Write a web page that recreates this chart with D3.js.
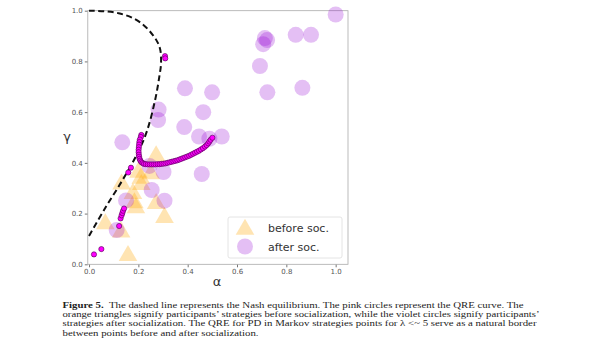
<!DOCTYPE html>
<html>
<head>
<meta charset="utf-8">
<script src="https://cdn.jsdelivr.net/npm/d3@7"></script>
<style>
  body { margin: 0; background: #fff; }
  svg { display: block; }
</style>
</head>
<body>
<svg id="drawing_region"></svg>
<script>
// [alpha, gamma]
const beforeSoc = [
    [0.272,0.433],[0.200,0.368],[0.210,0.345],[0.250,0.362],[0.132,0.322],
    [0.212,0.320],[0.178,0.285],[0.184,0.248],[0.190,0.228],[0.272,0.245],
    [0.306,0.190],[0.066,0.165],[0.130,0.133],[0.158,0.040]
];

const afterSoc = [
    [1.000,0.985],[0.838,0.905],[0.900,0.905],[0.713,0.892],[0.722,0.884],
    [0.706,0.868],[0.693,0.782],[0.723,0.678],[0.865,0.696],[0.389,0.694],
    [0.499,0.678],[0.282,0.610],[0.280,0.569],[0.463,0.600],[0.386,0.541],
    [0.446,0.504],[0.488,0.495],[0.538,0.504],[0.135,0.481],[0.457,0.356],
    [0.245,0.388],[0.302,0.364],[0.254,0.293],[0.306,0.251],[0.150,0.252],
    [0.112,0.135]
];

const qre = [
    [0.020,0.039],[0.050,0.060],[0.122,0.151],[0.128,0.181],[0.132,0.193],
    [0.135,0.202],[0.138,0.211],[0.142,0.220],[0.159,0.362],[0.170,0.381],
    [0.212,0.510],[0.210,0.502],[0.206,0.492],[0.204,0.482],[0.203,0.472],
    [0.202,0.462],[0.201,0.452],[0.201,0.442],[0.202,0.432],[0.203,0.424],
    [0.205,0.416],[0.208,0.409],[0.212,0.403],[0.217,0.399],[0.223,0.396],
    [0.230,0.395],[0.238,0.394],[0.246,0.394],[0.254,0.394],[0.262,0.394],
    [0.270,0.394],[0.278,0.395],[0.286,0.395],[0.294,0.396],[0.302,0.397],
    [0.310,0.398],[0.318,0.400],[0.326,0.402],[0.334,0.404],[0.342,0.406],
    [0.350,0.408],[0.358,0.410],[0.366,0.413],[0.374,0.416],[0.382,0.419],
    [0.390,0.422],[0.398,0.425],[0.406,0.428],[0.414,0.432],[0.422,0.436],
    [0.430,0.440],[0.438,0.444],[0.446,0.448],[0.454,0.453],[0.462,0.458],
    [0.470,0.464],[0.477,0.470],[0.483,0.477],[0.488,0.484],[0.493,0.491],
    [0.500,0.499],[0.308,0.821],[0.309,0.812]
];

const nash = [
    [0.000,0.112],[0.065,0.221],[0.132,0.326],[0.193,0.431],[0.234,0.523],
    [0.268,0.648],[0.285,0.740],[0.292,0.793],[0.289,0.845],[0.278,0.875],
    [0.258,0.905],[0.225,0.940],[0.180,0.970],[0.120,0.990],[0.060,0.998],
    [0.000,1.000]
];

const ticks = [0.0, 0.2, 0.4, 0.6, 0.8, 1.0];
const legendLabels = ["before soc.", "after soc."];

const caption = [
    ["Figure 5.", "  The dashed line represents the Nash equilibrium. The pink circles represent the QRE curve. The"],
    ["", "orange triangles signify participants\u2019 strategies before socialization, while the violet circles signify participants\u2019"],
    ["", "strategies after socialization. The QRE for PD in Markov strategies points for \u03bb <~ 5 serve as a natural border"],
    ["", "between points before and after socialization."]
];
const captionWidths = [461, 477, 474, 196];

class QrePlot {
    constructor(config) {
        this.config = config;
        this.init();
    }

    init() {
        let self = this;
        const c = self.config;
        self.svg = d3.select(c.parent)
            .attr('width', c.width)
            .attr('height', c.height);

        self.xscale = d3.scaleLinear().domain([-0.005, 1.05]).range([c.left, c.right]);
        self.yscale = d3.scaleLinear().domain([0, 1]).range([c.bottom, c.top]);
    }

    render() {
        let self = this;
        const c = self.config;
        const x = self.xscale, y = self.yscale;

        // axes
        const xaxis = d3.axisBottom(x).tickValues(ticks).tickFormat(d3.format('.1f')).tickSize(3).tickPadding(2);
        const yaxis = d3.axisLeft(y).tickValues(ticks).tickFormat(d3.format('.1f')).tickSize(3).tickPadding(2);

        const gx = self.svg.append('g')
            .attr('transform', `translate(0, ${c.bottom})`)
            .call(xaxis);
        const gy = self.svg.append('g')
            .attr('transform', `translate(${c.left}, 0)`)
            .call(yaxis);
        [gx, gy].forEach(g => {
            g.select('.domain').remove();
            g.selectAll('line').attr('stroke', '#777');
            g.selectAll('text')
                .attr('fill', '#555')
                .style('font-family', 'DejaVu Sans')
                .style('font-size', '7px');
        });

        self.svg.append('rect')
            .attr('x', c.left).attr('y', c.top)
            .attr('width', c.right - c.left).attr('height', c.bottom - c.top)
            .attr('fill', 'none').attr('stroke', '#aaa').attr('stroke-width', 0.8);

        const plot = self.svg.append('g');

        // before socialization
        const tri = d3.symbol().type(d3.symbolTriangle).size(150);
        plot.selectAll('path.before')
            .data(beforeSoc)
            .join('path')
            .attr('class', 'before')
            .attr('d', tri)
            .attr('transform', d => `translate(${x(d[0])}, ${y(d[1]) + 1.5})`)
            .attr('fill', 'orange')
            .attr('fill-opacity', 0.3);

        // after socialization
        plot.selectAll('circle.after')
            .data(afterSoc)
            .join('circle')
            .attr('class', 'after')
            .attr('cx', d => x(d[0]))
            .attr('cy', d => y(d[1]))
            .attr('r', 8)
            .attr('fill', 'darkviolet')
            .attr('fill-opacity', 0.25);

        // Nash equilibrium
        const line = d3.line()
            .x(d => x(d[0]))
            .y(d => y(d[1]))
            .curve(d3.curveCatmullRom);
        plot.append('path')
            .datum(nash)
            .attr('d', line)
            .attr('fill', 'none')
            .attr('stroke', '#111')
            .attr('stroke-width', 2)
            .attr('stroke-dasharray', '6,3.5');

        // QRE curve
        plot.selectAll('circle.qre')
            .data(qre)
            .join('circle')
            .attr('class', 'qre')
            .attr('cx', d => x(d[0]))
            .attr('cy', d => y(d[1]))
            .attr('r', 2.6)
            .attr('fill', 'magenta')
            .attr('stroke', '#4a004a')
            .attr('stroke-width', 0.6);

        // axis labels
        self.svg.append('text')
            .attr('x', 67).attr('y', 141)
            .attr('text-anchor', 'middle')
            .style('font-family', 'DejaVu Sans')
            .style('font-size', '13px')
            .attr('fill', '#333')
            .text('\u03b3');
        self.svg.append('text')
            .attr('x', 217).attr('y', 286)
            .attr('text-anchor', 'middle')
            .style('font-family', 'DejaVu Sans')
            .style('font-size', '13px')
            .attr('fill', '#333')
            .text('\u03b1');

        // legend
        const lg = self.svg.append('g');
        lg.append('rect')
            .attr('x', 228).attr('y', 217)
            .attr('width', 114).attr('height', 41)
            .attr('rx', 2)
            .attr('fill', '#fff').attr('fill-opacity', 0.8)
            .attr('stroke', '#ddd').attr('stroke-width', 0.8);
        lg.append('path')
            .attr('d', tri)
            .attr('transform', 'translate(245, 229.5)')
            .attr('fill', 'orange').attr('fill-opacity', 0.3);
        lg.append('circle')
            .attr('cx', 245).attr('cy', 246.5).attr('r', 8)
            .attr('fill', 'darkviolet').attr('fill-opacity', 0.25);
        lg.selectAll('text')
            .data(legendLabels)
            .join('text')
            .attr('x', 268)
            .attr('y', (d, i) => 232 + i * 18.5)
            .style('font-family', 'DejaVu Sans')
            .style('font-size', '11px')
            .attr('fill', '#333')
            .text(d => d);

        // caption
        const cap = self.svg.append('g')
            .style('font-family', 'Liberation Serif')
            .style('font-size', '9px')
            .attr('fill', '#222');
        caption.forEach((row, i) => {
            const t = cap.append('text')
                .attr('x', 62.5)
                .attr('y', 308 + i * 9.2)
                .attr('xml:space', 'preserve')
                .attr('textLength', captionWidths[i])
                .attr('lengthAdjust', 'spacingAndGlyphs');
            if (row[0]) t.append('tspan').attr('font-weight', 'bold').text(row[0]);
            t.append('tspan').text(row[1]);
        });
    }
}

const chart = new QrePlot({
    parent: '#drawing_region',
    width: 600,
    height: 351,
    left: 87.8,
    right: 348,
    top: 10.7,
    bottom: 264.3
});
chart.render();
</script>
</body>
</html>
